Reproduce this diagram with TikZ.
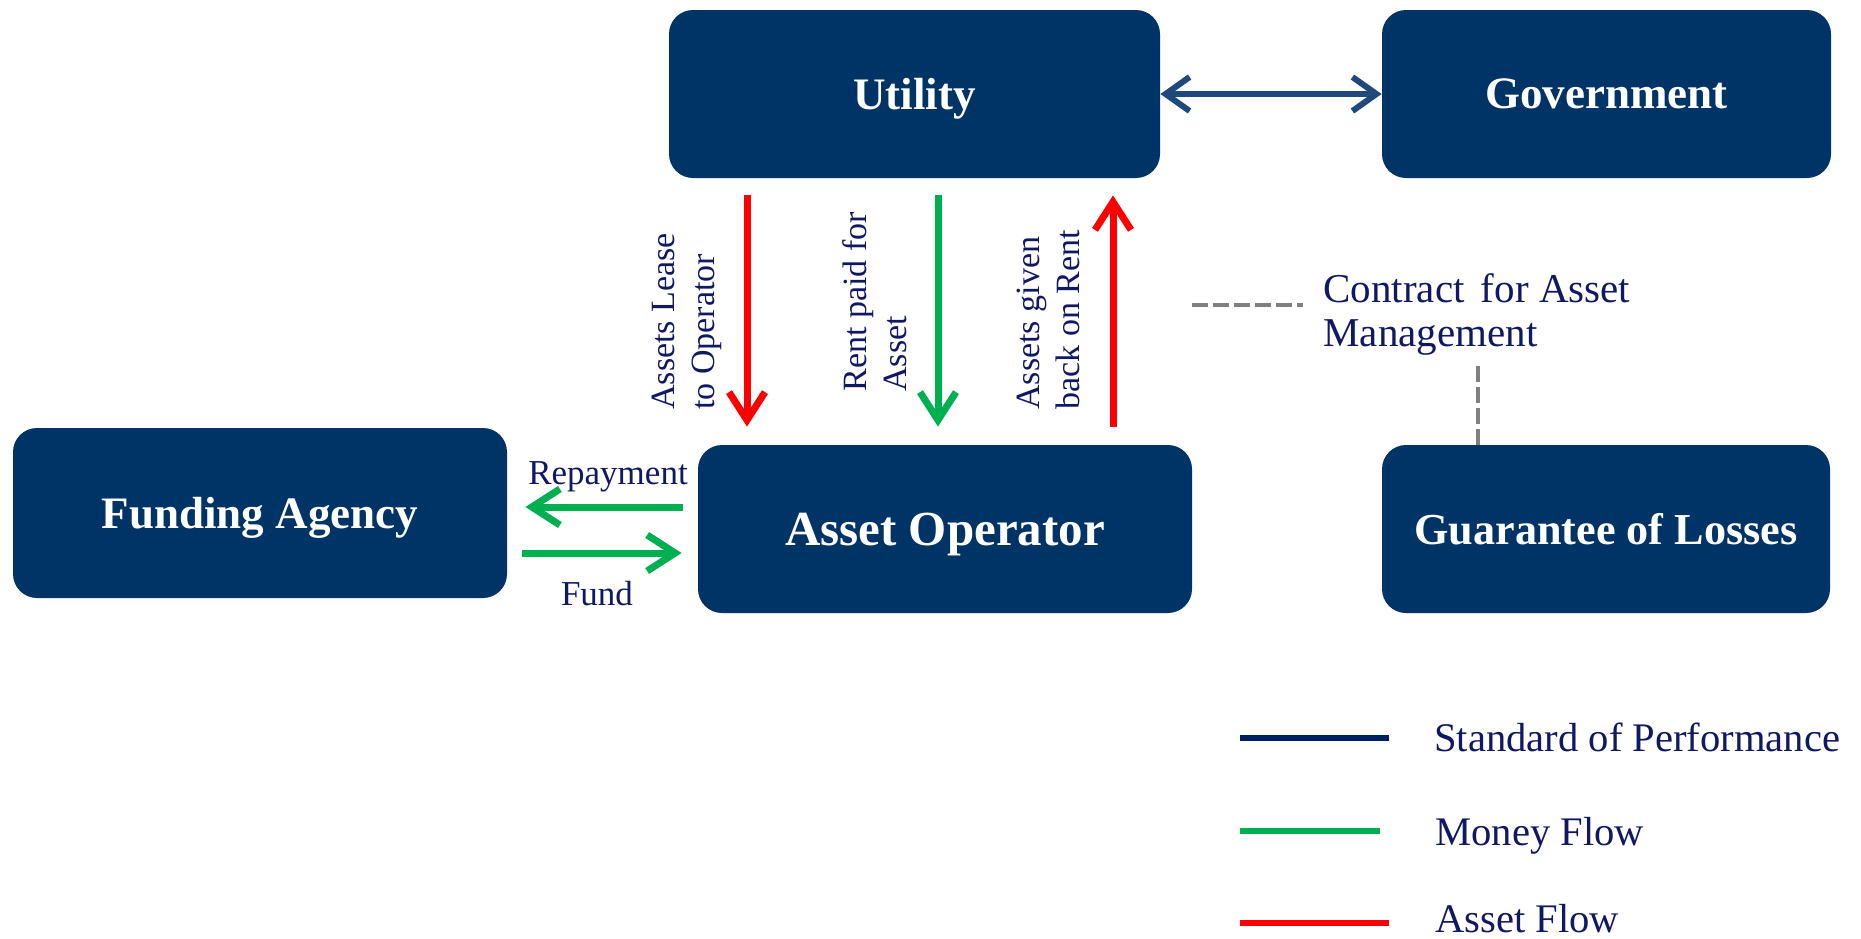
\documentclass[tikz,border=0pt]{standalone}
\usepackage{fontspec}
\setmainfont{Liberation Serif}
\usetikzlibrary{arrows.meta}
\definecolor{boxblue}{RGB}{0,51,102}
\definecolor{perfblue}{RGB}{31,73,125}
\definecolor{legnavy}{RGB}{0,32,96}
\definecolor{moneygreen}{RGB}{0,176,80}
\definecolor{assetred}{RGB}{255,0,0}
\definecolor{labelblue}{RGB}{16,24,100}
\definecolor{dashgrey}{RGB}{128,128,128}
\begin{document}
\begin{tikzpicture}[x=0.5pt,y=-0.5pt,
  flowtip/.tip={Straight Barb[length=14pt, width=18pt, line width=3.5pt]},
  perftip/.tip={Straight Barb[length=12pt, width=17pt, line width=3pt]},
  box/.style={fill=boxblue, rounded corners=12pt, text=white, inner sep=0pt,
    text depth=0pt, font=\bfseries\fontsize{22.5}{27}\selectfont},
  assetflow/.style={draw=assetred, line width=3.5pt, -{flowtip}},
  moneyflow/.style={draw=moneygreen, line width=3.5pt, -{flowtip}},
  perf/.style={draw=perfblue, line width=3pt, {perftip}-{perftip}},
  contractline/.style={draw=dashgrey, line width=2.2pt, dash pattern=on 8pt off 2.5pt},
  vlabel/.style={rotate=90, align=left, text=labelblue, inner sep=0pt,
    font=\fontsize{17}{20}\selectfont},
  hlabel/.style={text=labelblue, inner sep=0pt, font=\fontsize{17.5}{21}\selectfont},
  contracttext/.style={text=labelblue, inner sep=0pt, font=\fontsize{20.5}{24}\selectfont, anchor=base west},
  legendtext/.style={text=labelblue, inner sep=0pt, font=\fontsize{20.3}{24}\selectfont, anchor=base west},
  legendline/.style={line width=3pt}
]
\useasboundingbox (0,0) rectangle (1861,938);

% boxes
\node[box, minimum width=245.5pt, minimum height=84pt] (utility) at (914.5,94) {Utility};
\node[box, minimum width=224.5pt, minimum height=84pt] (government) at (1606.5,94) {Government};
\node[box, minimum width=247pt, minimum height=85pt] (funding) at (260,513) {Funding Agency};
\node[box, minimum width=247pt, minimum height=84pt, font=\bfseries\fontsize{24.5}{29}\selectfont] (operator) at (945,529) {Asset Operator};
\node[box, minimum width=224pt, minimum height=84pt, font=\bfseries\fontsize{22.1}{27}\selectfont] (guarantee) at (1606,529) {Guarantee of Losses};

% utility <-> government
\draw[perf] (utility) -- (government);

% vertical flows
\coordinate (xa) at (747,0);
\coordinate (xb) at (938,0);
\coordinate (xc) at (1113,0);
\draw[assetflow, shorten <=8.5pt, shorten >=9pt] (utility.south -| xa) -- (operator.north -| xa);
\draw[moneyflow, shorten <=8.5pt, shorten >=9pt] (utility.south -| xb) -- (operator.north -| xb);
\draw[assetflow, shorten <=9pt, shorten >=8.5pt] (operator.north -| xc) -- (utility.south -| xc);

\node[vlabel, anchor=west] (leaselbl) at (687,410) {Assets Lease\\to Operator};
\node[vlabel, anchor=west] (rentlbl) at (875,392) {Rent paid for\\Asset};
\node[vlabel, anchor=west] (backlbl) at (1048,410) {Assets given\\back on Rent};

% funding flows
\coordinate (ry) at (0,507);
\coordinate (fy) at (0,553);
\draw[moneyflow, shorten <=7.5pt, shorten >=9pt] (operator.west |- ry) -- (funding.east |- ry);
\draw[moneyflow, shorten <=7.5pt, shorten >=8pt] (funding.east |- fy) -- (operator.west |- fy);
\node[hlabel, anchor=base] (repaylbl) at (608,484) {Repayment};
\node[hlabel, anchor=base] (fundlbl) at (597,605) {Fund};

% contract
\node[contracttext] (contract1) at (1323,302) {Contract\hspace{0.15em} for Asset};
\node[contracttext] (contract2) at (1323,346) {Management};
\coordinate (dr) at (1303,305);
\coordinate (dv) at (1478,363);
\draw[contractline] (operator.east |- dr) -- (dr);
\draw[contractline] (guarantee.north -| dv) -- (dv);

% legend
\coordinate (l1a) at (1240,738); \coordinate (l1b) at (1389,738);
\coordinate (l2a) at (1240,831); \coordinate (l2b) at (1380,831);
\coordinate (l3a) at (1240,923); \coordinate (l3b) at (1389,923);
\draw[legendline, draw=legnavy] (l1a) -- (l1b);
\draw[legendline, draw=moneygreen] (l2a) -- (l2b);
\draw[legendline, draw=assetred] (l3a) -- (l3b);
\node[legendtext] (leg1) at (1434,751) {Standard of Performance};
\node[legendtext] (leg2) at (1435,845) {Money Flow};
\node[legendtext] (leg3) at (1435,932) {Asset Flow};
\end{tikzpicture}
\end{document}
